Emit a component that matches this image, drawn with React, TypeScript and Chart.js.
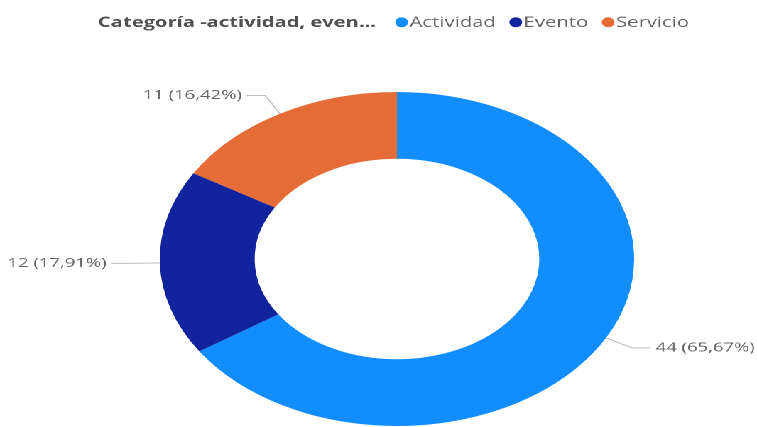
import React, { useEffect, useRef } from 'react';
import { Chart, registerables } from 'chart.js';

Chart.register(...registerables);

const categories: string[] = ['Actividad', 'Evento', 'Servicio'];
const values: number[] = [44, 12, 11];
const colors: string[] = ['#118DFF', '#12239E', '#E66C37'];
const legendTitle = 'Categoría -actividad, even...';

const LOGICAL_W = 533;
const H = 427;
const STRETCH = 757 / LOGICAL_W;

const fmtPct = (v: number, total: number) =>
  (v / total * 100).toFixed(2).replace('.', ',') + '%';

const legendPlugin = {
  id: 'pbiLegend',
  afterDraw(chart: any) {
    const ctx = chart.ctx as CanvasRenderingContext2D;
    const labels: string[] = chart.data.labels;
    const bg: string[] = chart.data.datasets[0].backgroundColor;
    ctx.save();
    const baseY = 27;
    let x = 69;
    ctx.textBaseline = 'alphabetic';
    ctx.textAlign = 'left';
    ctx.font = 'bold 14.2px "Open Sans"';
    ctx.fillStyle = '#505050';
    ctx.fillText(legendTitle, x, baseY);
    x += ctx.measureText(legendTitle).width + 13.5;
    ctx.font = '14.3px "Open Sans"';
    labels.forEach((c, i) => {
      ctx.fillStyle = bg[i];
      ctx.beginPath();
      ctx.ellipse(x + 4.5, 22.3, 4.5, 5, 0, 0, Math.PI * 2);
      ctx.fill();
      ctx.fillStyle = '#666666';
      ctx.fillText(c, x + 10, baseY);
      x += 10 + ctx.measureText(c).width + 9.5;
    });
    ctx.restore();
  },
};

const leaderPlugin = {
  id: 'pbiLeaders',
  afterDatasetsDraw(chart: any) {
    const ctx = chart.ctx as CanvasRenderingContext2D;
    const meta = chart.getDatasetMeta(0);
    const data: number[] = chart.data.datasets[0].data;
    const total = data.reduce((a, b) => a + b, 0);
    ctx.save();
    ctx.font = '13px "Open Sans"';
    ctx.textBaseline = 'middle';
    meta.data.forEach((arc: any, i: number) => {
      const p = arc.getProps(['x', 'y', 'startAngle', 'endAngle', 'outerRadius'], true);
      const mid = (p.startAngle + p.endAngle) / 2;
      const c = Math.cos(mid);
      const s = Math.sin(mid);
      const ex = p.x + c * p.outerRadius;
      const ey = p.y + s * p.outerRadius;
      const kx = ex + c * 21;
      const ky = ey + s * 21;
      const dir = c >= 0 ? 1 : -1;
      const lx = kx + dir * 13;
      ctx.strokeStyle = '#bdbdbd';
      ctx.lineWidth = 1;
      ctx.beginPath();
      ctx.moveTo(ex, ey);
      ctx.lineTo(kx, ky);
      ctx.lineTo(lx, ky);
      ctx.stroke();
      ctx.fillStyle = '#666666';
      ctx.textAlign = dir > 0 ? 'left' : 'right';
      ctx.fillText(`${data[i]} (${fmtPct(data[i], total)})`, lx + dir * 3.5, ky);
    });
    ctx.restore();
  },
};

export default function App() {
  const ref = useRef<HTMLCanvasElement | null>(null);
  useEffect(() => {
    if (!ref.current) return;
    const chart = new Chart(ref.current, {
      type: 'doughnut',
      data: {
        labels: categories,
        datasets: [
          {
            data: values,
            backgroundColor: colors,
            borderWidth: 0,
            hoverOffset: 0,
          },
        ],
      },
      options: {
        responsive: false,
        animation: false,
        devicePixelRatio: 2,
        cutout: '60%',
        layout: { padding: { top: 92, bottom: 1, left: 112.5, right: 86.5 } },
        plugins: {
          legend: { display: false },
          tooltip: { enabled: false },
        },
      },
      plugins: [legendPlugin, leaderPlugin],
    });
    return () => chart.destroy();
  }, []);
  return (
    <div
      style={{
        position: 'fixed',
        left: 0,
        top: 0,
        width: LOGICAL_W,
        height: H,
        transform: `scaleX(${STRETCH})`,
        transformOrigin: '0 0',
        background: '#fff',
      }}
    >
      <canvas ref={ref} width={LOGICAL_W} height={H} style={{ width: LOGICAL_W, height: H }} />
    </div>
  );
}
